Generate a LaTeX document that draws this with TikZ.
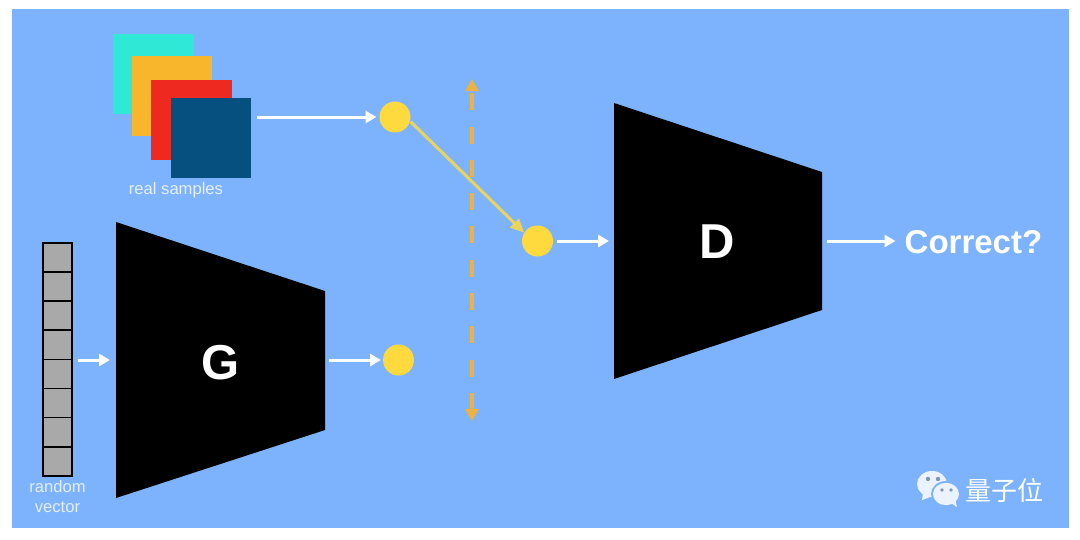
\documentclass[tikz,border=0pt]{standalone}
\usepackage{fontspec}
\setmainfont{Liberation Sans}
\newfontfamily\cjk{Noto Sans CJK SC}
\usetikzlibrary{arrows.meta,calc}
\definecolor{bgblue}{HTML}{7DB3FD}
\definecolor{teal1}{HTML}{2FE8D6}
\definecolor{orange1}{HTML}{F8B62C}
\definecolor{red1}{HTML}{EE2A20}
\definecolor{navy1}{HTML}{06507F}
\definecolor{dot}{HTML}{FFDA3E}
\definecolor{dashcol}{HTML}{EDB23F}
\definecolor{label}{HTML}{E3EFFF}
\definecolor{cellgrey}{HTML}{A9A9A9}
\definecolor{logo}{HTML}{EAF3FF}
\definecolor{logoeye}{HTML}{7F96B5}
\tikzset{
  x=1pt,y=-1pt,
  sample/.style={minimum width=80.6pt,minimum height=80.6pt,inner sep=0pt,outer sep=0pt,anchor=north west},
  dotnode/.style={circle,fill=dot,minimum size=31pt,inner sep=0pt,outer sep=0pt},
  flow/.style={white,line width=3pt,-{Triangle[length=11pt,width=12pt]}},
  cross/.style={dot!85!bgblue,line width=3pt,-{Triangle[length=14pt,width=12pt]}},
  swap/.style={dashcol,line width=3.2pt,dash pattern=on 17pt off 16.3pt,dash phase=30.3pt,{Triangle[length=12pt,width=13pt]}-{Triangle[length=12pt,width=13pt]}},
  cell/.style={draw=black,line width=1.7pt,fill=cellgrey,minimum width=29pt,minimum height=29.1pt,inner sep=0pt,outer sep=0pt,anchor=north},
  net/.style={fill=black},
  netlabel/.style={text=white,font=\fontsize{49}{49}\selectfont\bfseries,inner sep=0pt},
  caption/.style={text=label,font=\fontsize{16.6}{19.5}\selectfont,align=center,inner sep=0pt},
}
\begin{document}
\begin{tikzpicture}
\useasboundingbox (0,0) rectangle (1080,539);
\fill[white] (0,0) rectangle (1080,539);
\fill[bgblue] (12,9) rectangle (1069,528);
% samples
\node[sample,fill=teal1] (s1) at (113.3,33.5) {};
\node[sample,fill=orange1] (s2) at (131.7,55.7) {};
\node[sample,fill=red1] (s3) at (151,79.8) {};
\node[sample,fill=navy1] (s4) at (170.6,97.6) {};
\node[caption] (realcap) at (176,190) {real samples};
% vector
\foreach \i in {0,...,7}{
  \node[cell] (v\i) at (57.8,{243+\i*29.1}) {};
}
\node[caption] (randcap) at (57.5,496.5) {random\\vector};
% networks
\coordinate (ga) at (116,222); \coordinate (gb) at (325,291);
\coordinate (gc) at (325,430); \coordinate (gd) at (116,498);
\fill[net] (ga) -- (gb) -- (gc) -- (gd) -- cycle;
\node[netlabel] (G) at (220.5,362.5) {G};
\coordinate (da) at (614,103); \coordinate (db) at (822,172);
\coordinate (dc) at (822,310); \coordinate (dd) at (614,379);
\fill[net] (da) -- (db) -- (dc) -- (dd) -- cycle;
\node[netlabel] (D) at (717.5,242) {D};
% dots
\node[dotnode] (c1) at (395,117) {};
\node[dotnode] (c2) at (398.5,360) {};
\node[dotnode] (c3) at (537.5,241) {};
\node[text=white,font=\fontsize{33}{33}\selectfont\bfseries,inner sep=0pt,anchor=west] (out) at (904.5,242) {Correct?};
% free ends
\coordinate (vr) at (72.5,360); \coordinate (gl) at (116,360);
\coordinate (gr) at (325,360); \coordinate (dl) at (614,241);
\coordinate (dr) at (822,241); \coordinate (sr) at (251,117);
\coordinate (swaptop) at (472,79); \coordinate (swapbot) at (472,421);
% connectors
\draw[swap] (swaptop) -- (swapbot);
\draw[flow,shorten <=6pt,shorten >=3pt] (sr) -- (c1);
\draw[flow,shorten <=5pt,shorten >=6pt] (vr) -- (gl);
\draw[flow,shorten <=4pt,shorten >=2pt] (gr) -- (c2);
\draw[flow,shorten <=4pt,shorten >=5pt] (c3) -- (dl);
\draw[flow,shorten <=5pt,shorten >=9pt] (dr) -- (out.west |- dr);
\draw[cross,shorten <=1pt,shorten >=0pt] (c1.-15) -- (c3.148);
% logo
\fill[logo] (932,484) ellipse (15 and 13);
\fill[logo] (923,493) -- (922,500) -- (933,496) -- cycle;
\fill[bgblue] (946,494) ellipse (15 and 13);
\fill[logo] (946,494) ellipse (13 and 11.2);
\fill[logo] (951,503) -- (957,507) -- (955,499) -- cycle;
\fill[logoeye] (928,479) circle (2.2) (938,479) circle (2.2) (942,490) circle (1.9) (951,490) circle (1.9);
\node[text=white,font=\cjk\fontsize{26}{26}\selectfont,inner sep=0pt,anchor=west] (brand) at (965,491) {量子位};
\end{tikzpicture}
\end{document}
